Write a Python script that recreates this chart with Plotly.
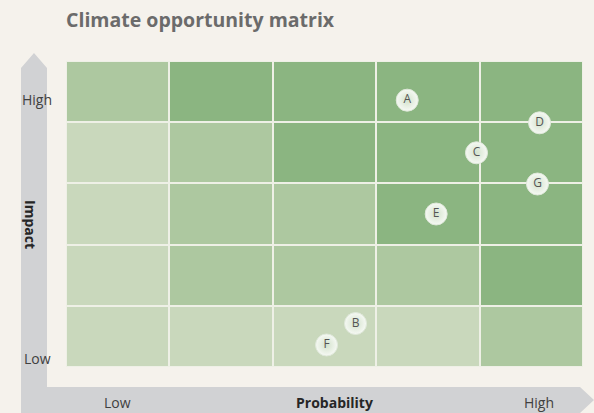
import plotly.graph_objects as go

# ---- data ----
prob_cols = [0.5, 1.5, 2.5, 3.5, 4.5]
impact_rows = [0.5, 1.5, 2.5, 3.5, 4.5]
# opportunity level per cell, rows from Low impact (bottom) to High impact (top)
cell_levels = [
    [0, 0, 0, 0, 1],
    [0, 1, 1, 1, 2],
    [0, 1, 1, 2, 2],
    [0, 1, 2, 2, 2],
    [1, 2, 2, 2, 2],
]
point_labels = ["A", "B", "C", "D", "E", "F", "G"]
point_prob = [3.30, 2.80, 3.97, 4.58, 3.58, 2.52, 4.56]
point_impact = [4.36, 0.71, 3.50, 3.99, 2.50, 0.36, 2.99]

W, H = 594, 413
ML, MR, MT, MB = 66, 11, 61, 46
PW, PH = W - ML - MR, H - MT - MB

def px(x):
    return (x - ML) / PW

def py(y):
    return (H - MB - y) / PH

BG = "#f5f2ec"
LIGHT, MID, DARK = "#c9d8bc", "#adc8a0", "#8bb581"

fig = go.Figure()
fig.add_trace(go.Heatmap(
    x=prob_cols, y=impact_rows, z=cell_levels,
    colorscale=[[0, LIGHT], [0.3333, LIGHT], [0.3334, MID], [0.6666, MID], [0.6667, DARK], [1, DARK]],
    zmin=0, zmax=2, showscale=False, xgap=2, ygap=2, hoverinfo="skip",
))
fig.add_trace(go.Scatter(
    x=point_prob, y=point_impact, text=point_labels,
    mode="markers+text", textposition="middle center",
    marker=dict(size=22, color="#f6f9f4", gradient=dict(type="radial", color="#d3e2cc"),
                line=dict(color="#dfe8da", width=1)),
    textfont=dict(family="Open Sans", size=12, color="#555555"),
    showlegend=False, cliponaxis=False, hoverinfo="skip",
))

# L-shaped axis arrows (pixel outline converted to paper coords)
pts = [(21, 413), (21, 68), (34, 53), (47, 68), (47, 387), (580, 387), (594, 400), (580, 413)]
path = "M " + " L ".join(f"{px(a):.5f},{py(b):.5f}" for a, b in pts) + " Z"
fig.add_shape(type="path", path=path, xref="paper", yref="paper",
              fillcolor="#d1d2d4", line=dict(width=0), layer="below")

def ann(text, x, y, size=14, bold=False, color="#404040", angle=0):
    fig.add_annotation(text=f"<b>{text}</b>" if bold else text, x=px(x), y=py(y),
                       xref="paper", yref="paper", showarrow=False, textangle=angle,
                       font=dict(family="Open Sans", size=size, color=color),
                       xanchor="center", yanchor="middle")

ann("High", 37, 99)
ann("Low", 37, 358)
ann("Impact", 31, 224, bold=True, color="#262626", angle=90)
ann("Low", 117, 402)
ann("Probability", 334, 402, bold=True, color="#262626")
ann("High", 539, 402)

fig.update_layout(
    width=W, height=H, margin=dict(l=ML, r=MR, t=MT, b=MB),
    paper_bgcolor=BG, plot_bgcolor="#eef0e6",
    title=dict(text="<b>Climate opportunity matrix</b>", xref="paper", x=0, xanchor="left",
               yref="container", y=1 - 20.5 / H, yanchor="middle",
               font=dict(family="Open Sans", size=19.5, color="#6b6b6b")),
    xaxis=dict(range=[0, 5], visible=False, fixedrange=True),
    yaxis=dict(range=[0, 5], visible=False, fixedrange=True),
)
fig.write_html("out.html", config={"displayModeBar": False},
               post_script="document.body.style.margin='0';")
